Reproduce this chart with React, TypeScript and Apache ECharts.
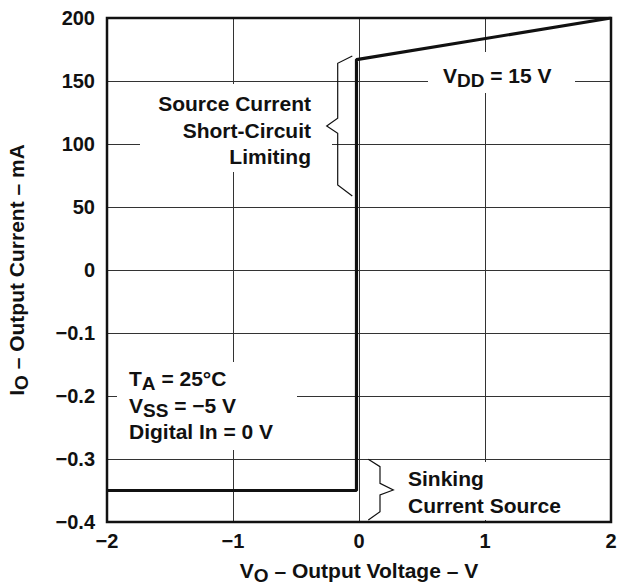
import React, { useEffect, useRef } from "react";
import * as echarts from "echarts";

// Characteristic curve: output voltage (V) vs output current
const voltage = [-2, -0.02, -0.02, 2];
const current = [-0.35, -0.35, 167, 200];

// Piecewise y axis: evenly spaced tick labels
const yTickLabels = ["\u22120.4", "\u22120.3", "\u22120.2", "\u22120.1", "0", "50", "100", "150", "200"];
const xTickValues = [-2, -1, 0, 1, 2];

// map a current value onto the evenly spaced axis
const toAxis = (v: number) => (v >= 0 ? 4 + v / 50 : 4 + v / 0.1);

const FONT = "Liberation Sans, Arial, Helvetica, sans-serif";

export default function App() {
  const ref = useRef<HTMLDivElement>(null);
  useEffect(() => {
    if (!ref.current) return;
    const chart = echarts.init(ref.current, null, { renderer: "svg" });
    const LH = 26.7;
    const bold = { fontFamily: FONT, fontWeight: "bold" as const, fontSize: 21 };
    const main = { ...bold, fill: "#111", color: "#111", lineHeight: LH };
    const sub = {
      ...bold,
      fill: "#111",
      color: "#111",
      fontSize: 19,
      lineHeight: LH - 10,
      padding: [10, 0, 0, 0],
    };
    const box = (x: number, y: number, w: number, h: number) => ({
      type: "rect",
      z: 50,
      shape: { x, y, width: w, height: h },
      style: { fill: "#fff" },
      silent: true,
    });
    const brace = (pts: number[][]) => ({
      type: "polyline",
      z: 60,
      shape: { points: pts },
      style: { stroke: "#111", lineWidth: 1.2, fill: "none" },
      silent: true,
    });
    chart.setOption({
      animation: false,
      backgroundColor: "#fff",
      grid: {
        left: 107,
        right: 12,
        top: 18,
        bottom: 63,
        show: true,
        borderColor: "#111",
        borderWidth: 2.5,
        outerBoundsMode: "none",
        z: 3,
      },
      xAxis: {
        type: "value",
        min: -2,
        max: 2,
        interval: 1,
        axisLine: { show: false },
        axisTick: { show: false },
        splitLine: { show: true, lineStyle: { color: "#333", width: 1 } },
        axisLabel: {
          margin: 9,
          fontFamily: FONT,
          fontWeight: "bold",
          fontSize: 20,
          color: "#111",
          formatter: (v: number) => (v < 0 ? "\u2212" + Math.abs(v) : String(v)),
          customValues: xTickValues,
        },
        name: "{b|V}{s|O}{b| \u2013 Output Voltage \u2013 V}",
        nameLocation: "middle",
        nameGap: 30,
        nameTextStyle: {
          rich: { b: main, s: sub },
        },
      },
      yAxis: {
        type: "value",
        min: 0,
        max: 8,
        interval: 1,
        axisLine: { show: false },
        axisTick: { show: false },
        splitLine: { show: true, lineStyle: { color: "#333", width: 1 } },
        axisLabel: {
          margin: 12,
          fontFamily: FONT,
          fontWeight: "bold",
          fontSize: 20,
          color: "#111",
          formatter: (v: number) => yTickLabels[Math.round(v)] ?? "",
        },
        name: "{b|I}{s|O}{b| \u2013 Output Current \u2013 mA}",
        nameLocation: "middle",
        nameRotate: 90,
        nameGap: 77,
        nameTextStyle: {
          rich: { b: main, s: sub },
        },
      },
      series: [
        {
          type: "line",
          data: voltage.map((v, i) => [v, toAxis(current[i])]),
          symbol: "none",
          lineStyle: { color: "#111", width: 3.2 },
          z: 10,
        },
      ],
      graphic: [
        box(140, 84, 192, 88),
        {
          type: "text",
          z: 70,
          x: 311,
          y: 130,
          style: {
            text: "Source Current\nShort-Circuit\nLimiting",
            ...bold,
            fill: "#111",
            align: "right",
            verticalAlign: "middle",
            lineHeight: 26.7,
          },
        },
        brace([
          [352.3, 56],
          [337.7, 63.3],
          [337.7, 118.3],
          [326.7, 126],
          [337.7, 133.3],
          [337.7, 185],
          [352.3, 196],
        ]),
        box(428, 52, 147, 41),
        {
          type: "text",
          z: 70,
          x: 443,
          y: 75,
          style: {
            text: "{b|V}{s|DD}{b| = 15 V}",
            verticalAlign: "middle",
            rich: { b: main, s: sub },
          },
        },
        box(117, 362, 180, 88),
        {
          type: "text",
          z: 70,
          x: 129,
          y: 405,
          style: {
            text: "{b|T}{s|A}{b| = 25\u00b0C}\n{b|V}{s|SS}{b| = \u22125 V}\n{b|Digital In = 0 V}",
            verticalAlign: "middle",
            rich: { b: main, s: sub },
          },
        },
        box(394, 462, 205, 58),
        {
          type: "text",
          z: 70,
          x: 408,
          y: 492,
          style: {
            text: "Sinking\nCurrent Source",
            ...bold,
            fill: "#111",
            verticalAlign: "middle",
            lineHeight: 27.5,
          },
        },
        brace([
          [368.3, 459.3],
          [380, 466.7],
          [380, 483.3],
          [393.3, 490],
          [380, 495],
          [380, 511.7],
          [368.3, 520],
        ]),
      ],
    });
    return () => chart.dispose();
  }, []);
  return (
    <div
      ref={ref}
      style={{ position: "fixed", left: 0, top: 0, width: 623, height: 585, background: "#fff" }}
    />
  );
}
